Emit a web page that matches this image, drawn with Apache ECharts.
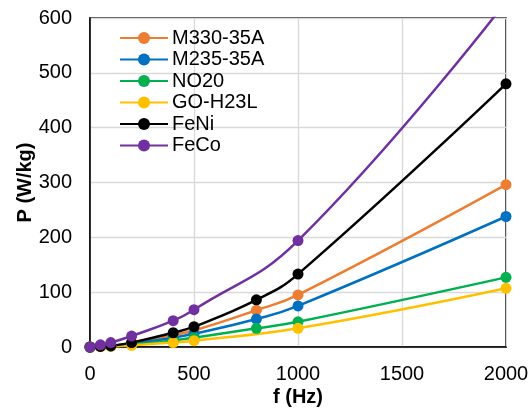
<!DOCTYPE html>
<html>
<head>
<meta charset="utf-8">
<script src="https://cdn.jsdelivr.net/npm/echarts@6/dist/echarts.min.js"></script>
<style>html,body{margin:0;padding:0;background:#fff;}#c{width:530px;height:410px;}</style>
</head>
<body>
<div id="c"></div>
<script>
// frequency points (Hz)
const freqs = [0, 50, 100, 200, 400, 500, 800, 1000, 2000];
// losses P (W/kg); null = not measured
const m330 = [0, 1, 2, 7, 22, 30, 67, 95, 296];
const m235 = [0, 1, 2, 6, 17, 24, 51, 75, 238];
const no20 = [0, 1, 1.5, 4, 12, 17, 34, 46, 127];
const goh23l = [0, 0.5, 1, 3, 8, 11.5, null, 34, 107];
const feni = [0, 1, 2, 8, 26, 37, 86, 133, 480];
const feco = [0, 4, 8, 20, 48, 68, null, 194, 630];
const seriesNames = ['M330-35A', 'M235-35A', 'NO20', 'GO-H23L', 'FeNi', 'FeCo'];
const seriesValues = [m330, m235, no20, goh23l, feni, feco];
const colors = ['#ED7D31', '#0070C0', '#00B050', '#FFC000', '#000000', '#7030A0'];
const xTicks = { min: 0, max: 2000, interval: 500 };
const yTicks = { min: 0, max: 600, interval: 100 };

function pairs(vals) {
  const out = [];
  vals.forEach((v, i) => { if (v !== null) out.push([freqs[i], v]); });
  return out;
}

const chart = echarts.init(document.getElementById('c'), null, { renderer: 'canvas' });
const font = 'Liberation Sans, Arial, sans-serif';
chart.setOption({
  animation: false,
  backgroundColor: '#fff',
  grid: { left: 90, right: 24, top: 18, bottom: 63, show: true, borderColor: '#000', borderWidth: 1.5, backgroundColor: 'transparent', containLabel: false, outerBoundsMode: 'none' },
  legend: {
    left: 114, top: 23, orient: 'vertical', padding: 5,
    itemWidth: 48, itemHeight: 15, itemGap: 1.5,
    textStyle: { fontSize: 20, fontFamily: font, color: '#000', lineHeight: 20, padding: [0, 0, 0, -1] },
    data: seriesNames
  },
  xAxis: {
    type: 'value', min: xTicks.min, max: xTicks.max, interval: xTicks.interval,
    name: 'f (Hz)', nameLocation: 'middle', nameGap: 40, nameMoveOverlap: false,
    nameTextStyle: { fontSize: 20, fontWeight: 'bold', fontFamily: font, color: '#000' },
    axisLine: { show: true, lineStyle: { color: '#000', width: 1.5 } },
    axisTick: { show: false },
    axisLabel: { fontSize: 20, fontFamily: font, color: '#000', margin: 17, formatter: v => String(v) },
    splitLine: { show: true, lineStyle: { color: '#d9d9d9', width: 1.3 } }
  },
  yAxis: {
    type: 'value', min: yTicks.min, max: yTicks.max, interval: yTicks.interval,
    name: 'P (W/kg)', nameLocation: 'middle', nameGap: 55, nameMoveOverlap: false,
    nameTextStyle: { fontSize: 20, fontWeight: 'bold', fontFamily: font, color: '#000' },
    axisLine: { show: true, lineStyle: { color: '#000', width: 1.5 } },
    axisTick: { show: false },
    axisLabel: { fontSize: 20, fontFamily: font, color: '#000', margin: 18, formatter: v => String(v) },
    splitLine: { show: true, lineStyle: { color: '#d9d9d9', width: 1.3 } }
  },
  series: seriesNames.map((n, i) => ({
    name: n, type: 'line', smooth: 0.45, clip: true,
    data: pairs(seriesValues[i]),
    symbol: 'circle', symbolSize: 11,
    lineStyle: { color: colors[i], width: 2.5 },
    itemStyle: { color: colors[i] }
  }))
});
</script>
</body>
</html>
